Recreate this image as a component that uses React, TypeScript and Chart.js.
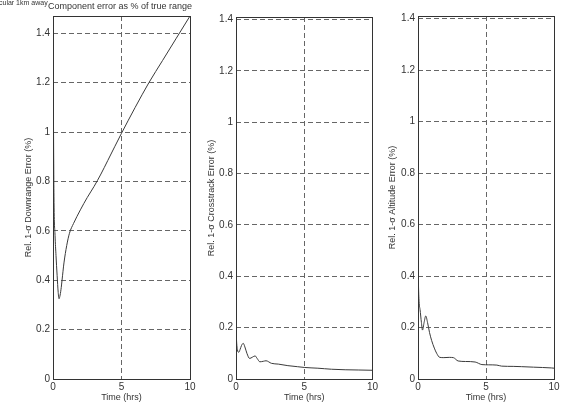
import React, { useEffect, useRef } from "react";
import { Chart, registerables } from "chart.js";

Chart.register(...registerables);

// ---- data ----
const timeDown = [0, 0.03, 0.07, 0.15, 0.22, 0.3, 0.38, 0.44, 0.52, 0.6, 0.66, 0.8, 1.0, 1.2, 1.5, 2.0, 2.5, 3.0, 3.5, 4.0, 5.0, 6.0, 7.0, 8.0, 9.0, 10.0];
const downrange = [1.46, 1.1, 0.74, 0.58, 0.5, 0.42, 0.35, 0.325, 0.34, 0.37, 0.4, 0.47, 0.54, 0.59, 0.63, 0.685, 0.735, 0.78, 0.83, 0.885, 0.995, 1.1, 1.2, 1.29, 1.38, 1.47];

const timeCross = [0, 0.05, 0.1, 0.2, 0.3, 0.4, 0.53, 0.65, 0.8, 1.0, 1.2, 1.4, 1.55, 1.75, 2.0, 2.2, 2.6, 3.1, 3.8, 4.5, 5, 6, 6.5, 7, 8, 9, 10];
const crosstrack = [0.2, 0.14, 0.115, 0.104, 0.115, 0.13, 0.139, 0.125, 0.1, 0.08, 0.085, 0.09, 0.08, 0.067, 0.069, 0.071, 0.061, 0.058, 0.052, 0.048, 0.045, 0.042, 0.04, 0.038, 0.036, 0.035, 0.034];

const timeAlt = [0, 0.03, 0.08, 0.15, 0.25, 0.33, 0.45, 0.57, 0.7, 0.85, 1.0, 1.2, 1.37, 1.6, 1.9, 2.3, 2.6, 2.95, 3.5, 4.2, 4.7, 5.2, 5.8, 6.15, 7, 7.6, 8.5, 9.8, 10];
const altitude = [0.5, 0.38, 0.3, 0.27, 0.22, 0.19, 0.22, 0.245, 0.22, 0.18, 0.15, 0.12, 0.1, 0.084, 0.083, 0.084, 0.083, 0.07, 0.068, 0.066, 0.056, 0.055, 0.054, 0.05, 0.049, 0.048, 0.046, 0.043, 0.042];

const xTicks = [0, 5, 10];
const yTicks = [0, 0.2, 0.4, 0.6, 0.8, 1, 1.2, 1.4];

const xTitle = "Time (hrs)";
const mainTitle = "Component error as % of true range";
const sideNote = "cular 1km away";

const FONT = "'Liberation Sans', Arial, Helvetica, sans-serif";

type PanelSpec = {
  left: number;
  width: number;
  yAxisWidth: number;
  padRight: number;
  padTop: number;
  yMax: number;
  yTitle: string;
  yTitlePad: number;
  times: number[];
  values: number[];
};

const panels: PanelSpec[] = [
  { left: 0, width: 200, yAxisWidth: 53, padRight: 10, padTop: 16, yMax: 1.47, yTitle: "Rel. 1-σ Downrange Error (%)", yTitlePad: 23, times: timeDown, values: downrange },
  { left: 190, width: 190, yAxisWidth: 46, padRight: 7, padTop: 17, yMax: 1.41, yTitle: "Rel. 1-σ Crosstrack Error (%)", yTitlePad: 16.5, times: timeCross, values: crosstrack },
  { left: 375, width: 189, yAxisWidth: 43, padRight: 10, padTop: 16, yMax: 1.41, yTitle: "Rel. 1-σ Altitude Error (%)", yTitlePad: 12.5, times: timeAlt, values: altitude },
];

const boxPlugin = {
  id: "boxPlugin",
  afterDatasetsDraw(chart: any) {
    const { ctx, chartArea } = chart;
    ctx.save();
    ctx.strokeStyle = "#333";
    ctx.lineWidth = 1;
    ctx.strokeRect(
      Math.round(chartArea.left) + 0.5,
      Math.round(chartArea.top) + 0.5,
      Math.round(chartArea.right - chartArea.left),
      Math.round(chartArea.bottom - chartArea.top)
    );
    ctx.restore();
  },
};

function Panel({ spec }: { spec: PanelSpec }) {
  const ref = useRef<HTMLCanvasElement | null>(null);
  useEffect(() => {
    if (!ref.current) return;
    const data = spec.times.map((t, i) => ({ x: t, y: spec.values[i] }));
    const chart = new Chart(ref.current, {
      type: "line",
      data: {
        datasets: [
          {
            data,
            borderColor: "#3a3a3a",
            borderWidth: 1,
            pointRadius: 0,
            fill: false,
            cubicInterpolationMode: "monotone",
          },
        ],
      },
      options: {
        animation: false,
        responsive: false,
        maintainAspectRatio: false,
        events: [],
        layout: { padding: { left: 0, right: spec.padRight, top: spec.padTop, bottom: 0 } },
        plugins: { legend: { display: false }, tooltip: { enabled: false }, title: { display: false } },
        scales: {
          x: {
            type: "linear",
            min: 0,
            max: 10,
            afterBuildTicks: (axis: any) => {
              axis.ticks = xTicks.map((v) => ({ value: v }));
            },
            afterFit: (axis: any) => {
              axis.height = 35;
            },
            ticks: { color: "#333", font: { family: FONT, size: 10 }, padding: 2, maxRotation: 0 },
            grid: {
              color: (c: any) => (c.tick && c.tick.value === 5 ? "#666" : "rgba(0,0,0,0)"),
              lineWidth: 1,
              drawTicks: false,
            },
            border: { display: false, dash: [5, 3] },
            title: { display: true, text: xTitle, color: "#333", font: { family: FONT, size: 9 }, padding: { top: 0, bottom: 11 } },
          },
          y: {
            type: "linear",
            min: 0,
            max: spec.yMax,
            afterBuildTicks: (axis: any) => {
              axis.ticks = yTicks.map((v) => ({ value: v }));
            },
            afterFit: (axis: any) => {
              axis.width = spec.yAxisWidth;
            },
            ticks: { color: "#333", font: { family: FONT, size: 10 }, padding: 3, callback: (v: any) => String(Math.round(Number(v) * 10) / 10) },
            grid: {
              color: (c: any) => (c.tick && c.tick.value > 0 ? "#666" : "rgba(0,0,0,0)"),
              lineWidth: 1,
              drawTicks: false,
            },
            border: { display: false, dash: [5, 3] },
            title: { display: true, text: spec.yTitle, color: "#333", font: { family: FONT, size: 9 }, padding: { top: spec.yTitlePad, bottom: 0 } },
          },
        },
      },
      plugins: [boxPlugin],
    } as any);
    return () => chart.destroy();
  }, [spec]);
  return (
    <canvas
      ref={ref}
      width={spec.width}
      height={414}
      style={{ position: "absolute", left: spec.left, top: 0, width: spec.width, height: 414 }}
    />
  );
}

export default function App() {
  return (
    <div style={{ position: "absolute", left: 0, top: 0, width: 564, height: 414, background: "#fff", overflow: "hidden" }}>
      {panels.map((p, i) => (
        <Panel key={i} spec={p} />
      ))}
      <div style={{ position: "absolute", left: -1, top: -1, fontFamily: FONT, fontSize: 7, color: "#333", whiteSpace: "nowrap" }}>{sideNote}</div>
      <div style={{ position: "absolute", left: 48, top: 1, fontFamily: FONT, fontSize: 9, color: "#333", whiteSpace: "nowrap" }}>{mainTitle}</div>
    </div>
  );
}
